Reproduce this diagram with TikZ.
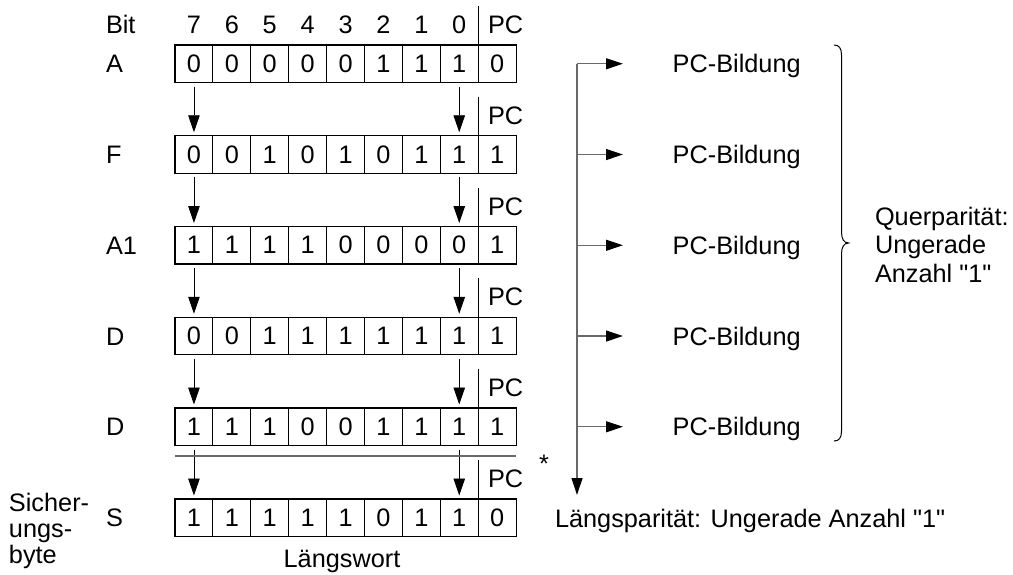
\documentclass[tikz,border=0pt]{standalone}
\usepackage{fontspec}
\setmainfont{Liberation Sans}[Ligatures=TeXOff]
\usetikzlibrary{arrows.meta}
\definecolor{busgray}{RGB}{105,105,105}

\begin{document}
\begin{tikzpicture}[x=1pt,y=-1pt,
  every node/.style={font=\fontsize{25.3}{28}\selectfont, inner sep=0pt, outer sep=0pt},
  bitcell/.style={draw, line width=1.1pt, minimum width=37.9pt, minimum height=37.5pt},
  label/.style={anchor=base west},
  down/.style={line width=0.9pt, -{Triangle[length=17pt,width=11.5pt]}},
  feed/.style={draw=busgray, line width=1.2pt, -{Triangle[length=17pt,width=11pt,fill=black,color=black]}},
  divider/.style={line width=1.1pt},
]
\useasboundingbox (0,0) rectangle (1013,574);

% register rows: bits 7..0 followed by the parity bit PC
\foreach \r/\top/\name/\bits in {
    0/45/A/{0,0,0,0,0,1,1,1,0},
    1/135.75/F/{0,0,1,0,1,0,1,1,1},
    2/226.5/A1/{1,1,1,1,0,0,0,0,1},
    3/317.25/D/{0,0,1,1,1,1,1,1,1},
    4/408/D/{1,1,1,0,0,1,1,1,1},
    5/499/S/{1,1,1,1,1,0,1,1,0}} {
  \foreach \b [count=\j from 0] in \bits {
    \node[bitcell] (c\r-\j) at ({175+37.9*(\j+0.5)}, {\top+18.75}) {\b};
  }
  \node[label] (n\r) at (106, {\top+27.75}) {\name};
  \node[label] (pc\r) at (488, {\top-11.5}) {PC};
  \draw[divider] ([yshift=39pt]c\r-8.north west) -- (c\r-8.north west);
}

% bit numbers above the first row
\node[label] (bit) at (106, 33) {Bit};
\foreach \j [evaluate=\j as \n using int(7-\j)] in {0,...,7} {
  \node[anchor=base] (b\j) at ({175+37.9*(\j+0.5)}, 33) {\n};
}

% bits 7 and 0 handed down from row to row
\foreach \r [evaluate=\r as \s using int(\r+1)] in {0,...,4} {
  \draw[down] ([yshift=-4pt]c\r-0.south) -- ([yshift=3.5pt]c\s-0.north);
  \draw[down] ([yshift=-4pt]c\r-7.south) -- ([yshift=3.5pt]c\s-7.north);
}

% rule above the check byte
\draw[draw=busgray, line width=1.2pt] ([yshift=-10.5pt]c4-0.south west) -- ([yshift=-10.5pt]c4-8.south east);
\node[anchor=base] (star) at (544, 472.4) {*};

% check byte labels
\node[label] (s1) at (9, 511) {Sicher-};
\node[label] (s2) at (9, 537) {ungs-};
\node[label] (s3) at (9, 563) {byte};
\node[anchor=base] (lw) at (342, 567) {Längswort};

% parity generation for each row
\foreach \r/\cy in {0/63.75, 1/154.5, 2/245.25, 3/336, 4/426.75} {
  \coordinate (j\r) at (577, \cy);
  \coordinate (t\r) at (623, \cy);
  \node[label] (p\r) at (672.7, {\cy+9}) {PC-Bildung};
  \draw[feed] (j\r) -- (t\r);
}
\coordinate (busend) at (577, 495);
\draw[feed] (j0) -- (busend);
\node[label] (lp) at (555, 527) {Längsparität: Ungerade Anzahl "1"};

% brace gathering the row parities
\draw[line width=1pt] (834,45) .. controls (839,45) and (841.5,48) .. (841.5,55)
  -- (841.5,232) .. controls (841.5,239) and (844,243) .. (848.5,243)
  .. controls (844,243) and (841.5,247) .. (841.5,254)
  -- (841.5,431) .. controls (841.5,438) and (839,441) .. (834,441);
\node[label] (q1) at (875, 225) {Querparität:};
\node[label] (q2) at (875, 253.5) {Ungerade};
\node[label] (q3) at (875, 282) {Anzahl "1"};
\end{tikzpicture}
\end{document}
